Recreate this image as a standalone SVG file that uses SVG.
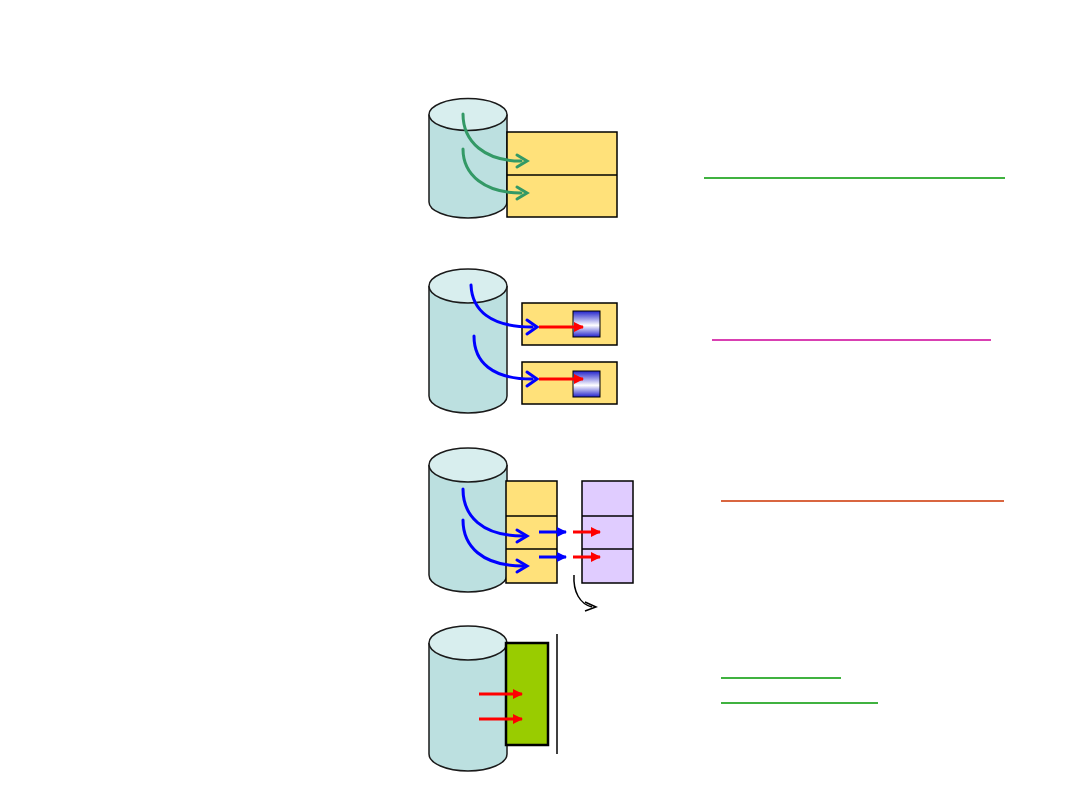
<svg xmlns="http://www.w3.org/2000/svg" width="1080" height="810" viewBox="0 0 1080 810">
<style>
.cyl{fill:#BCE0E0;stroke:#1a1a1a;stroke-width:1.5}
.cyltop{fill:#D8EEEE;stroke:#1a1a1a;stroke-width:1.5}
.yel{fill:#FFE17A;stroke:#000;stroke-width:1.5}
.pur{fill:#E0CCFF;stroke:#000;stroke-width:1.5}
.gc{fill:none;stroke:#339966;stroke-width:3;stroke-linecap:round}
.bc{fill:none;stroke:#0000FF;stroke-width:3;stroke-linecap:round}
.kc{fill:none;stroke:#000;stroke-width:1.5}
.red{stroke:#FF0000;stroke-width:3;fill:none}
.blu{stroke:#0000FF;stroke-width:3;fill:none}
.ul{stroke-width:1.5;fill:none}
</style>
<defs>
<marker id="ahr" viewBox="0 0 10 10" refX="9" refY="5" markerWidth="10" markerHeight="10" markerUnits="userSpaceOnUse" orient="auto"><path d="M0,0 L10,5 L0,10 Z" fill="#FF0000"/></marker>
<marker id="ahb" viewBox="0 0 10 10" refX="9" refY="5" markerWidth="10" markerHeight="10" markerUnits="userSpaceOnUse" orient="auto"><path d="M0,0 L10,5 L0,10 Z" fill="#0000FF"/></marker>
<linearGradient id="gb" x1="0" y1="0" x2="0" y2="1">
<stop offset="0" stop-color="#2222CC"/><stop offset="0.55" stop-color="#FFFFFF"/><stop offset="1" stop-color="#2222CC"/>
</linearGradient>
</defs>
<rect width="1080" height="810" fill="#FFFFFF"/>

<g id="panel1">
<g id="cyl1"><path class="cyl" d="M429,114.5 V202 A39,16 0 0 0 507,202 V114.5"/><ellipse class="cyltop" cx="468" cy="114.5" rx="39" ry="16"/></g>
<g id="table1"><rect class="yel" x="507" y="132" width="110" height="85"/><line x1="507" y1="175" x2="617" y2="175" stroke="#000" stroke-width="1.5"/></g>
</g>

<g id="panel2">
<g id="cyl2"><path class="cyl" d="M429,286 V396 A39,17 0 0 0 507,396 V286"/><ellipse class="cyltop" cx="468" cy="286" rx="39" ry="17"/></g>
<g id="row2a"><rect class="yel" x="522" y="303" width="95" height="42"/><rect x="573" y="311" width="27" height="26" fill="url(#gb)" stroke="#000" stroke-width="1"/></g>
<g id="row2b"><rect class="yel" x="522" y="362" width="95" height="42"/><rect x="573" y="371" width="27" height="26" fill="url(#gb)" stroke="#000" stroke-width="1"/></g>
</g>

<g id="panel3">
<g id="cyl3"><path class="cyl" d="M429,465 V575 A39,17 0 0 0 507,575 V465"/><ellipse class="cyltop" cx="468" cy="465" rx="39" ry="17"/></g>
<g id="col3a"><rect class="yel" x="506" y="481" width="51" height="102"/><line x1="506" y1="516" x2="557" y2="516" stroke="#000" stroke-width="1.5"/><line x1="506" y1="549" x2="557" y2="549" stroke="#000" stroke-width="1.5"/></g>
<g id="col3b"><rect class="pur" x="582" y="481" width="51" height="102"/><line x1="582" y1="516" x2="633" y2="516" stroke="#000" stroke-width="1.5"/><line x1="582" y1="549" x2="633" y2="549" stroke="#000" stroke-width="1.5"/></g>
</g>

<g id="panel4">
<g id="cyl4"><path class="cyl" d="M429,643 V754 A39,17 0 0 0 507,754 V643"/><ellipse class="cyltop" cx="468" cy="643" rx="39" ry="17"/></g>
<g id="box4"><rect x="506" y="643" width="42" height="102" fill="#99CC00" stroke="#000" stroke-width="2.5"/></g>
<line x1="557" y1="634" x2="557" y2="754" stroke="#000" stroke-width="1.5"/>
</g>

<g id="connectors">
<path class="gc" d="M463,114 C463,142 485,161 521,161"/>
<polyline class="gc" points="517,155 527,161 517,167"/>
<path class="gc" d="M463,149 C463,175 485,193 521,193"/>
<polyline class="gc" points="517,187 527,193 517,199"/>

<path class="bc" d="M471,285 C472,310 490,327 532,327"/>
<polyline class="bc" points="527,320 537,327 527,334"/>
<path class="bc" d="M474,336 C474,362 492,379 532,379"/>
<polyline class="bc" points="527,372 537,379 527,386"/>
<line class="red" x1="539" y1="327" x2="583" y2="327" marker-end="url(#ahr)"/>
<line class="red" x1="539" y1="379" x2="583" y2="379" marker-end="url(#ahr)"/>

<path class="bc" d="M463,489 C463,516 482,536 523,536"/>
<polyline class="bc" points="517,530 527,536 517,542"/>
<path class="bc" d="M463,520 C463,546 482,566 523,566"/>
<polyline class="bc" points="517,560 527,566 517,572"/>
<line class="blu" x1="539" y1="532" x2="566" y2="532" stroke-width="3.5" marker-end="url(#ahb)"/>
<line class="blu" x1="539" y1="557" x2="566" y2="557" stroke-width="2" marker-end="url(#ahb)"/>
<line class="red" x1="573" y1="532" x2="600" y2="532" marker-end="url(#ahr)"/>
<line class="red" x1="573" y1="557" x2="600" y2="557" stroke-width="2" marker-end="url(#ahr)"/>
<path class="kc" d="M574,575 C573,592 580,604 592,607"/>
<polyline class="kc" points="585,602 596,607 585,611" stroke-width="2"/>

<line class="red" x1="479" y1="694" x2="522" y2="694" marker-end="url(#ahr)"/>
<line class="red" x1="479" y1="719" x2="522" y2="719" marker-end="url(#ahr)"/>
</g>

<g id="underlines">
<line class="ul" x1="704" y1="178" x2="1005" y2="178" stroke="#009900"/>
<line class="ul" x1="712" y1="340" x2="991" y2="340" stroke="#CC0099" stroke-width="2"/>
<line class="ul" x1="721" y1="501" x2="1004" y2="501" stroke="#CC3300"/>
<line class="ul" x1="721" y1="678" x2="841" y2="678" stroke="#009900"/>
<line class="ul" x1="721" y1="703" x2="878" y2="703" stroke="#009900"/>
</g>
</svg>
